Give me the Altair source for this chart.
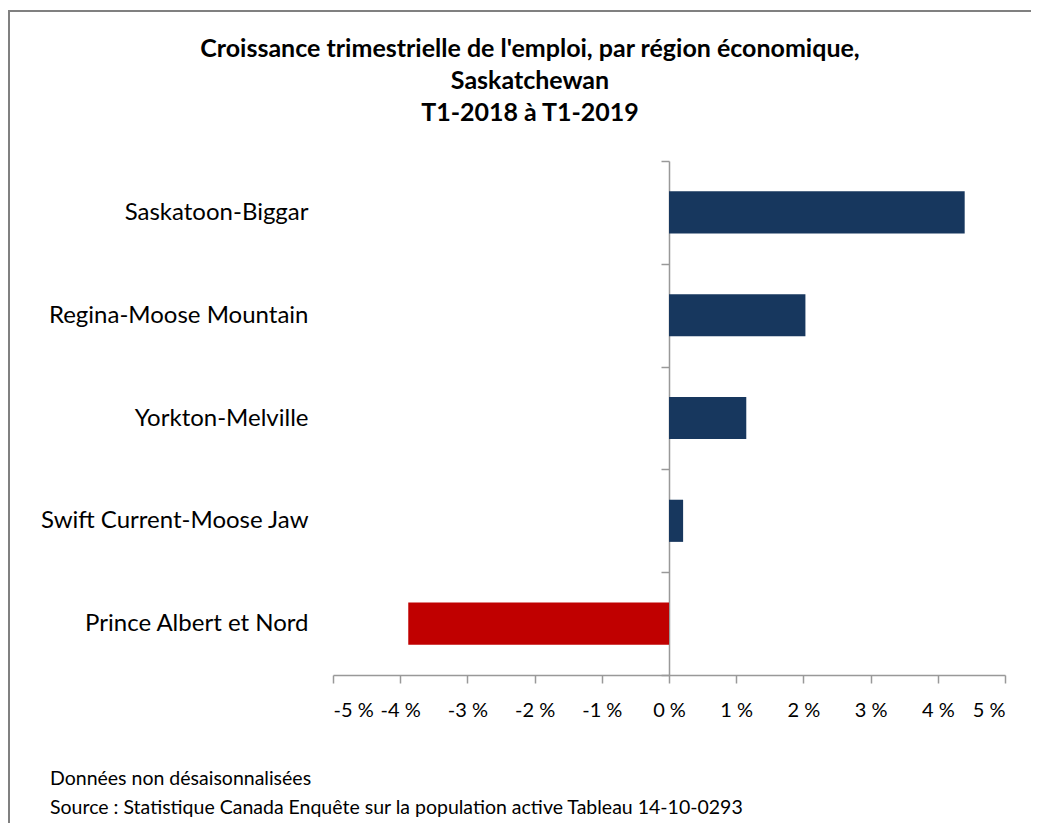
import altair as alt
import pandas as pd

regions = ["Saskatoon-Biggar", "Regina-Moose Mountain", "Yorkton-Melville",
           "Swift Current-Moose Jaw", "Prince Albert et Nord"]
growth = [4.40, 2.03, 1.15, 0.21, -3.88]
x_ticks = [-5, -4, -3, -2, -1, 0, 1, 2, 3, 4, 5]
title_text = ("Croissance trimestrielle de l'emploi, par région économique,\n"
              "Saskatchewan\nT1-2018 à T1-2019")
notes = "Données non désaisonnalisées\nSource : Statistique Canada Enquête sur la population active Tableau 14-10-0293"

FONT = "Lato"
W, H = 672, 514
AX = "#999999"

df = pd.DataFrame({"region": regions, "growth": growth})
df["sign"] = ["neg" if v < 0 else "pos" for v in growth]

bars = alt.Chart(df).mark_bar(height=alt.RelativeBandSize(0.41)).encode(
    y=alt.Y("region:N", sort=regions, title=None,
            scale=alt.Scale(paddingInner=0, paddingOuter=0),
            axis=alt.Axis(offset=-W / 2, domain=True, domainColor=AX, domainWidth=1.5,
                          ticks=True, tickBand="extent", tickSize=8, tickColor=AX,
                          tickWidth=1.5, labelPadding=353, labelFontSize=24, labelFont=FONT,
                          labelColor="#000000", labelLimit=0, grid=False)),
    x=alt.X("growth:Q", title=None,
            scale=alt.Scale(domain=[-5, 5], nice=False),
            axis=alt.Axis(values=x_ticks, labelExpr="datum.value + ' %'", domainColor=AX,
                          domainWidth=1.5, tickColor=AX, tickWidth=1.5, tickSize=8,
                          labelFontSize=20, labelFont=FONT, labelColor="#000000",
                          labelPadding=17, labelOverlap=False, grid=False)),
    color=alt.Color("sign:N", scale=alt.Scale(domain=["pos", "neg"], range=["#17375E", "#C00000"]),
                    legend=None),
)

one = pd.DataFrame({"a": [0]})
frame_top = alt.Chart(one).mark_rule(stroke="#808080", strokeWidth=2, clip=False).encode(
    x=alt.value(-324), x2=alt.value(740), y=alt.value(-150))
frame_left = alt.Chart(one).mark_rule(stroke="#808080", strokeWidth=2, clip=False).encode(
    x=alt.value(-324), y=alt.value(-151), y2=alt.value(700))

title = alt.Chart(pd.DataFrame({"t": [title_text]})).mark_text(
    align="center", baseline="alphabetic", fontSize=25, font=FONT, fontWeight="bold",
    lineBreak="\n", lineHeight=32, color="#000000"
).encode(text="t:N", x=alt.value(197), y=alt.value(-104))

foot = alt.Chart(pd.DataFrame({"t": [notes]})).mark_text(
    align="left", baseline="alphabetic", fontSize=19.5, font=FONT, lineBreak="\n",
    lineHeight=29, color="#000000"
).encode(text="t:N", x=alt.value(-283), y=alt.value(624))

chart = alt.layer(frame_top, frame_left, bars, title, foot).properties(
    width=W, height=H,
    padding={"left": 325, "top": 153, "right": 26, "bottom": 148},
    autosize=alt.AutoSizeParams(type="none"),
).configure_view(stroke=None)

chart.save("out.html", embed_options={"renderer": "svg", "actions": False})
